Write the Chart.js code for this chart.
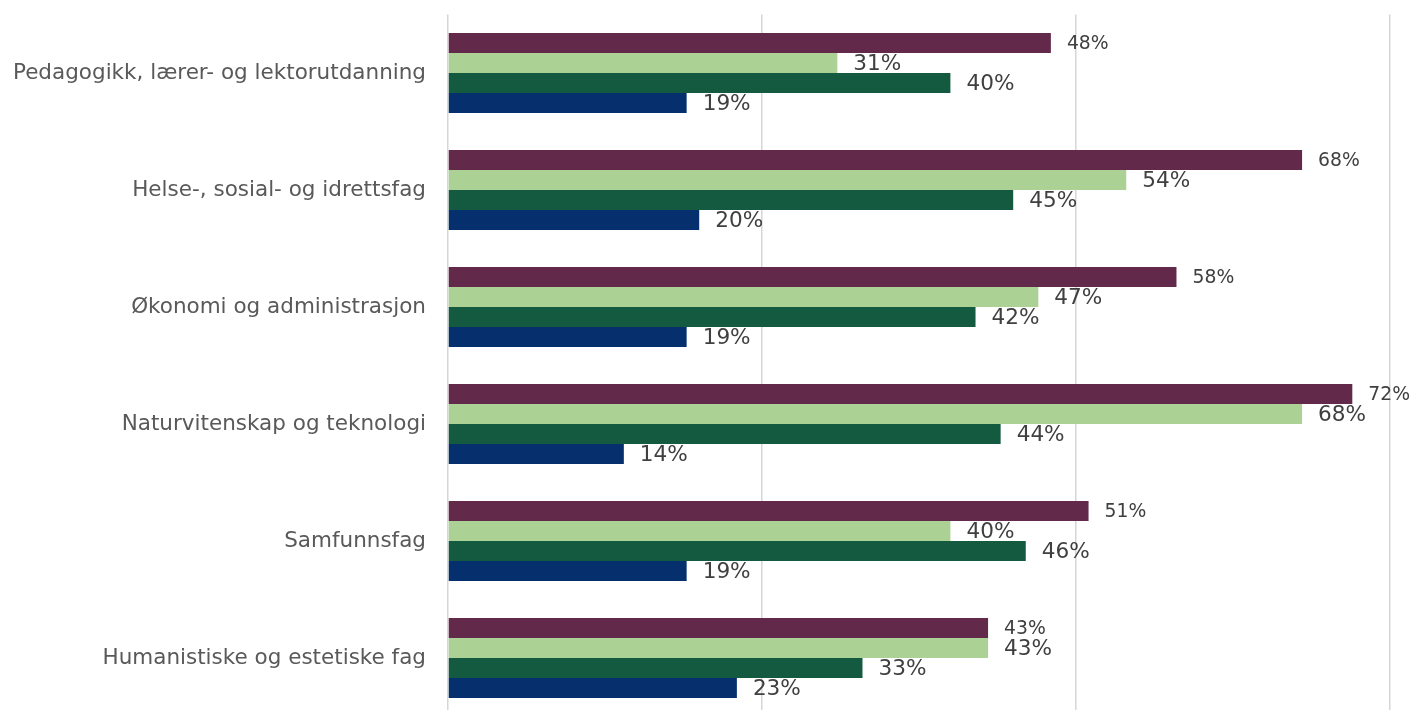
<!DOCTYPE html>
<html>
<head>
<meta charset="utf-8">
<script src="https://cdn.jsdelivr.net/npm/chart.js@4"></script>
<style>
  html, body { margin: 0; padding: 0; background: #ffffff; overflow: hidden; }
  #wrap { width: 1412px; height: 720px; position: relative; }
</style>
</head>
<body>
<div id="wrap"><canvas id="c" width="1412" height="720"></canvas></div>
<script>
const categories = [
  "Pedagogikk, lærer- og lektorutdanning",
  "Helse-, sosial- og idrettsfag",
  "Økonomi og administrasjon",
  "Naturvitenskap og teknologi",
  "Samfunnsfag",
  "Humanistiske og estetiske fag"
];
const seriesA = [48, 68, 58, 72, 51, 43];
const seriesB = [31, 54, 47, 68, 40, 43];
const seriesC = [40, 45, 42, 44, 46, 33];
const seriesD = [19, 20, 19, 14, 19, 23];
const seriesColors = ["#63294a", "#acd194", "#135a40", "#06306d"];
const axisMax = 75;
const axisStep = 25;

const labelPlugin = {
  id: "barLabels",
  afterDatasetsDraw(chart) {
    const ctx = chart.ctx;
    ctx.save();
    ctx.fillStyle = "#404040";
    ctx.textAlign = "left";
    ctx.textBaseline = "middle";
    chart.data.datasets.forEach((ds, di) => {
      const meta = chart.getDatasetMeta(di);
      ctx.font = (di === 0 ? "18.8px" : "21.6px") + " 'DejaVu Sans', Verdana, sans-serif";
      meta.data.forEach((bar, i) => {
        ctx.fillText(ds.data[i] + "%", bar.x + 16, bar.y + 1);
      });
    });
    ctx.restore();
  }
};

new Chart(document.getElementById("c"), {
  type: "bar",
  data: {
    labels: categories,
    datasets: [
      { data: seriesA, backgroundColor: seriesColors[0] },
      { data: seriesB, backgroundColor: seriesColors[1] },
      { data: seriesC, backgroundColor: seriesColors[2] },
      { data: seriesD, backgroundColor: seriesColors[3] }
    ]
  },
  options: {
    indexAxis: "y",
    responsive: false,
    animation: false,
    layout: { padding: { top: 14.5, bottom: 3.5, left: 0, right: 22 } },
    datasets: { bar: { categoryPercentage: 0.684, barPercentage: 1.0, borderWidth: 0 } },
    plugins: { legend: { display: false }, tooltip: { enabled: false } },
    scales: {
      x: {
        min: 0, max: axisMax,
        ticks: { display: false, stepSize: axisStep },
        grid: { color: "#d6d6d6", lineWidth: 1.5, drawTicks: false },
        border: { display: false },
        afterFit(s) { s.height = 0; s.paddingLeft = 0; s.paddingRight = 0; }
      },
      y: {
        ticks: { color: "#595959", font: { family: "'DejaVu Sans', Verdana, sans-serif", size: 21.5 }, padding: 22 },
        grid: { display: false, drawTicks: false },
        border: { display: false },
        afterFit(s) { s.width = 448; s.paddingTop = 0; s.paddingBottom = 0; }
      }
    }
  },
  plugins: [labelPlugin]
});
</script>
</body>
</html>
